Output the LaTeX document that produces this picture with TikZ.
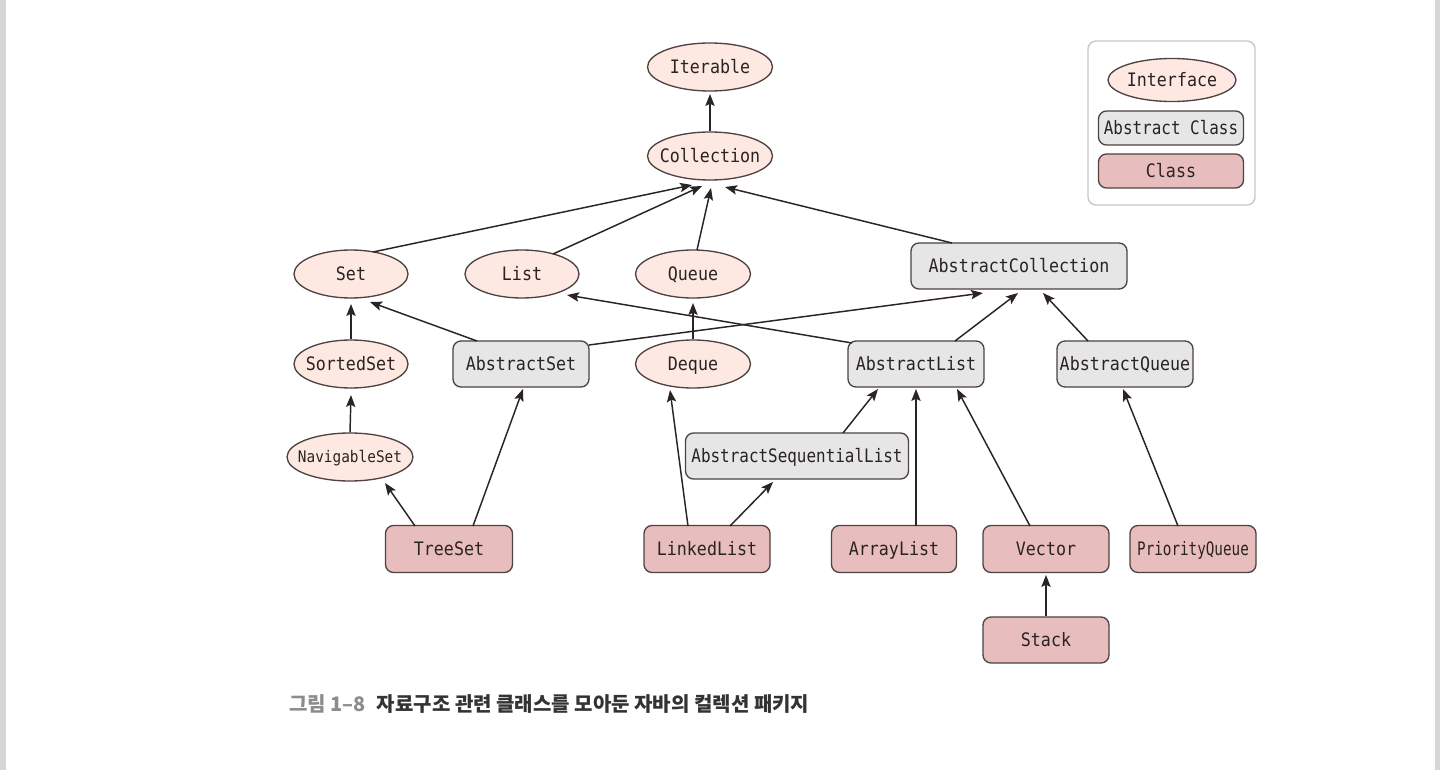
\documentclass[tikz,border=0pt]{standalone}
\usepackage{fontspec}
\usepackage{tikz}
\usetikzlibrary{shapes.geometric,arrows.meta,calc}

\newfontfamily\codefont[FakeStretch=0.9]{DejaVu Sans Mono}
\newfontfamily\snugcodefont[FakeStretch=0.86]{DejaVu Sans Mono}
\newfontfamily\narrowcodefont[FakeStretch=0.77]{DejaVu Sans Mono}
\newfontfamily\krfont{Noto Sans CJK KR}

\definecolor{ifacefill}{HTML}{FDE9E2}
\definecolor{absfill}{HTML}{E6E6E6}
\definecolor{classfill}{HTML}{E8BDBD}
\definecolor{nodeline}{HTML}{4E4242}
\definecolor{inktext}{HTML}{2A2323}
\definecolor{edgeink}{HTML}{2B2424}
\definecolor{sidebar}{HTML}{D6D6D6}
\definecolor{framegray}{HTML}{C9C9C9}
\definecolor{captiongray}{HTML}{8C8C8C}
\definecolor{captionink}{HTML}{333333}

\newcommand\flatlabel[1]{\makebox[0pt]{\raisebox{-0.36em}[0pt][0pt]{#1}}}

\tikzset{
  dims/.style 2 args={
    minimum width=#1*0.75pt,
    minimum height=#2*0.75pt},
  every member/.style={
    inner sep=0pt,
    text=inktext,
    draw=nodeline,
    line width=1pt,
    font=\codefont\fontsize{13.9pt}{16pt}\selectfont},
  interface/.style={
    every member,
    ellipse,
    fill=ifacefill},
  abstract/.style={
    every member,
    rectangle,
    rounded corners=6pt,
    fill=absfill},
  concrete/.style={
    every member,
    rectangle,
    rounded corners=6pt,
    fill=classfill},
  inherits/.style={
    draw=edgeink,
    line width=1.1pt,
    -{Stealth[length=9pt,width=7pt,inset=1.8pt]}},
}

\begin{document}
\begin{tikzpicture}[x=0.75pt, y=-0.75pt]
  \useasboundingbox (0,0) rectangle (1440,770);
  \fill[white] (0,0) rectangle (1440,770);
  \fill[sidebar] (0,0) rectangle (6,770);
  \fill[sidebar] (1435,0) rectangle (1440,770);

  % interfaces
  \node[interface, dims={125}{48}] (Iterable) at (710,67) {\flatlabel{Iterable}};
  \node[interface, dims={125}{48}] (Collection) at (710,156) {\flatlabel{Collection}};
  \node[interface, dims={114}{48}] (Set) at (351,274) {\flatlabel{Set}};
  \node[interface, dims={114}{48}] (List) at (522,274) {\flatlabel{List}};
  \node[interface, dims={115}{48}] (Queue) at (693,274) {\flatlabel{Queue}};
  \node[interface, dims={114}{48}] (SortedSet) at (351,364) {\flatlabel{SortedSet}};
  \node[interface, dims={115}{48}] (Deque) at (693,364) {\flatlabel{Deque}};
  \node[interface, dims={126}{48},
    font=\codefont\fontsize{12pt}{14pt}\selectfont] (NavigableSet) at (350,457) {\flatlabel{NavigableSet}};

  % abstract classes
  \node[abstract, dims={216}{46}] (AbstractCollection) at (1019,266) {\flatlabel{AbstractCollection}};
  \node[abstract, dims={136}{46}] (AbstractSet) at (521,364) {\flatlabel{AbstractSet}};
  \node[abstract, dims={136}{46}] (AbstractList) at (916,364) {\flatlabel{AbstractList}};
  \node[abstract, dims={136}{46}] (AbstractQueue) at (1125,364) {\flatlabel{AbstractQueue}};
  \node[abstract, dims={223}{46},
    font=\snugcodefont\fontsize{13.9pt}{16pt}\selectfont] (AbstractSequentialList) at (797,456) {\flatlabel{AbstractSequentialList}};

  % classes
  \node[concrete, dims={127}{47}] (TreeSet) at (449,549) {\flatlabel{TreeSet}};
  \node[concrete, dims={126}{47}] (LinkedList) at (707,549) {\flatlabel{LinkedList}};
  \node[concrete, dims={125}{47}] (ArrayList) at (894,549) {\flatlabel{ArrayList}};
  \node[concrete, dims={126}{47}] (Vector) at (1046,549) {\flatlabel{Vector}};
  \node[concrete, dims={126}{47},
    font=\narrowcodefont\fontsize{13.9pt}{16pt}\selectfont] (PriorityQueue) at (1193,549) {\flatlabel{PriorityQueue}};
  \node[concrete, dims={126}{46}] (Stack) at (1046,640) {\flatlabel{Stack}};

  % inheritance
  \draw[inherits] (Collection.north) -- ($(Iterable.center)+(0,27)$);
  \draw[inherits] ($(Set.center)+(22,-22)$) -- ($(Collection.center)+(-18,29)$);
  \draw[inherits] ($(List.center)+(31,-20)$) -- ($(Collection.center)+(-8,30)$);
  \draw[inherits] ($(Queue.center)+(4,-24)$) -- ($(Collection.center)+(1,32)$);
  \draw[inherits] ($(AbstractCollection.center)+(-67,-23)$) -- ($(Collection.center)+(15,31)$);
  \draw[inherits] ($(AbstractSet.center)+(-44,-23)$) -- ($(Set.center)+(19,28)$);
  \draw[inherits] ($(AbstractSet.center)+(68,-19)$) -- ($(AbstractCollection.center)+(-36,27)$);
  \draw[inherits] ($(AbstractList.center)+(-64,-21)$) -- ($(List.center)+(45,21)$);
  \draw[inherits] (SortedSet.north) -- ($(Set.center)+(0,30)$);
  \draw[inherits] (NavigableSet.north) -- ($(SortedSet.center)+(0,31)$);
  \draw[inherits] (Deque.north) -- ($(Queue.center)+(0,29)$);
  \draw[inherits] ($(AbstractList.center)+(39,-23)$) -- ($(AbstractCollection.center)+(-1,27)$);
  \draw[inherits] ($(AbstractQueue.center)+(-37,-23)$) -- ($(AbstractCollection.center)+(24,27)$);
  \draw[inherits] ($(TreeSet.center)+(-34,-23)$) -- ($(NavigableSet.center)+(35,26)$);
  \draw[inherits] ($(TreeSet.center)+(24,-23)$) -- ($(AbstractSet.center)+(2,25)$);
  \draw[inherits] ($(LinkedList.center)+(-19,-23)$) -- ($(Deque.center)+(-23,26)$);
  \draw[inherits] ($(LinkedList.center)+(23,-23)$) -- ($(AbstractSequentialList.center)+(-24,26)$);
  \draw[inherits] ($(AbstractSequentialList.center)+(46,-23)$) -- ($(AbstractList.center)+(-38,25)$);
  \draw[inherits] ($(ArrayList.center)+(22,-23)$) -- ($(AbstractList.center)+(0,25)$);
  \draw[inherits] ($(Vector.center)+(-16,-23)$) -- ($(AbstractList.center)+(41,25)$);
  \draw[inherits] ($(PriorityQueue.center)+(-15,-23)$) -- ($(AbstractQueue.center)+(-2,25)$);
  \draw[inherits] (Stack.north) -- ($(Vector.center)+(0,26)$);

  % legend
  \draw[framegray, line width=1.1pt, rounded corners=6pt] (1088,41) rectangle (1255,205);
  \node[interface, dims={128}{43}] (keyInterface) at (1172,80) {\flatlabel{Interface}};
  \node[abstract, dims={145}{34},
    font=\snugcodefont\fontsize{13.9pt}{16pt}\selectfont] (keyAbstract) at (1171,128) {\flatlabel{Abstract Class}};
  \node[concrete, dims={145}{34}] (keyClass) at (1171,171) {\flatlabel{Class}};

  % caption
  \node[anchor=west, inner sep=0pt, text=captionink,
    font=\krfont\bfseries\fontsize{15pt}{18pt}\selectfont] (caption) at (289,704)
    {\textcolor{captiongray}{그림 1–8}\hspace{0.55em}자료구조 관련 클래스를 모아둔 자바의 컬렉션 패키지};
\end{tikzpicture}
\end{document}
